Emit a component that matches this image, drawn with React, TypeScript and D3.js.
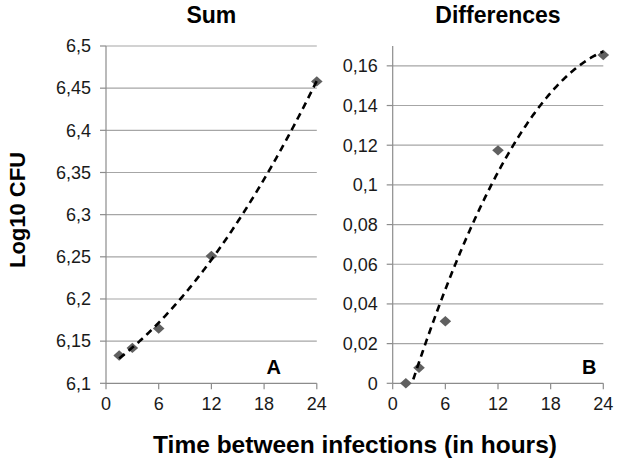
import React from "react";
import * as d3 from "d3";

const hours = [1.5, 3, 6, 12, 24];
const sumValues = [6.133, 6.142, 6.165, 6.251, 6.458];
const diffValues = [0, 0.0078, 0.0313, 0.1174, 0.1655];
const xTicks = [0, 6, 12, 18, 24];
const sumTicks = [6.1, 6.15, 6.2, 6.25, 6.3, 6.35, 6.4, 6.45, 6.5];
const diffTicks = [0, 0.02, 0.04, 0.06, 0.08, 0.1, 0.12, 0.14, 0.16];

function polyfit2(xs: number[], ys: number[]): number[] {
  // least squares quadratic (trendline)
  const S = (p: number) => d3.sum(xs, (x) => Math.pow(x, p));
  const T = (p: number) => d3.sum(xs.map((x, i) => Math.pow(x, p) * ys[i]));
  const A = [
    [S(0), S(1), S(2), T(0)],
    [S(1), S(2), S(3), T(1)],
    [S(2), S(3), S(4), T(2)],
  ];
  for (let i = 0; i < 3; i++) {
    let max = i;
    for (let r = i + 1; r < 3; r++) if (Math.abs(A[r][i]) > Math.abs(A[max][i])) max = r;
    [A[i], A[max]] = [A[max], A[i]];
    for (let r = 0; r < 3; r++) {
      if (r === i) continue;
      const f = A[r][i] / A[i][i];
      for (let c = i; c < 4; c++) A[r][c] -= f * A[i][c];
    }
  }
  return [A[0][3] / A[0][0], A[1][3] / A[1][1], A[2][3] / A[2][2]];
}

const fmt = (v: number) => String(+v.toFixed(3)).replace(".", ",");

const FONT = "'Liberation Sans', Arial, sans-serif";
const GRID = "#a6a6a6";
const AXIS = "#8c8c8c";
const MARK = "#606060";

type PanelProps = {
  id: string;
  values: number[];
  yDomain: [number, number];
  yTicks: number[];
  x0: number;
  x1: number;
  title: string;
  letter: string;
  letterX: number;
};

const TOP = 46;
const BOTTOM = 383.3;

function Panel({ id, values, yDomain, yTicks, x0, x1, title, letter, letterX }: PanelProps) {
  const x = d3.scaleLinear().domain([0, 24]).range([x0, x1]);
  const y = d3.scaleLinear().domain(yDomain).range([BOTTOM, TOP]);
  const [a, b, c] = polyfit2(hours, values);
  const xs = d3.range(hours[0], hours[hours.length - 1] + 0.001, 0.1);
  const line = d3
    .line<number>()
    .x((t) => x(t))
    .y((t) => y(a + b * t + c * t * t));
  const diamond = (cx: number, cy: number) =>
    `M${cx},${cy - 5.2}L${cx + 5.8},${cy}L${cx},${cy + 5.2}L${cx - 5.8},${cy}Z`;
  return (
    <g>
      <defs>
        <clipPath id={`clip-${id}`}>
          <rect x={x0} y={TOP - 10} width={x1 - x0 + 10} height={BOTTOM - TOP + 10} />
        </clipPath>
      </defs>
      {yTicks.map((t) => (
        <g key={t}>
          {t !== yDomain[0] && (
            <line x1={x0} x2={x1} y1={y(t)} y2={y(t)} stroke={GRID} strokeWidth={1.2} />
          )}
          <line x1={x0 - 6} x2={x0} y1={y(t)} y2={y(t)} stroke={AXIS} strokeWidth={1.2} />
          <text
            x={x0 - 15}
            y={y(t)}
            dy="0.35em"
            textAnchor="end"
            fontFamily={FONT}
            fontSize={18}
            fill="#1a1a1a"
          >
            {fmt(t)}
          </text>
        </g>
      ))}
      <line x1={x0} x2={x0} y1={TOP} y2={BOTTOM} stroke={AXIS} strokeWidth={1.2} />
      <line x1={x0} x2={x1} y1={BOTTOM} y2={BOTTOM} stroke={AXIS} strokeWidth={1.2} />
      {xTicks.map((t) => (
        <g key={t}>
          <line x1={x(t)} x2={x(t)} y1={BOTTOM} y2={BOTTOM + 6} stroke={AXIS} strokeWidth={1.2} />
          <text
            x={x(t)}
            y={410}
            textAnchor="middle"
            fontFamily={FONT}
            fontSize={18}
            fill="#1a1a1a"
          >
            {t}
          </text>
        </g>
      ))}
      {hours.map((h, i) => (
        <path key={h} d={diamond(x(h), y(values[i]))} fill={MARK} />
      ))}
      <path
        d={line(xs) || ""}
        fill="none"
        stroke="#000"
        strokeWidth={2.6}
        strokeDasharray="7,5"
        clipPath={`url(#clip-${id})`}
      />
      <text
        x={(x0 + x1) / 2}
        y={23}
        textAnchor="middle"
        fontFamily={FONT}
        fontWeight="bold"
        fontSize={23}
        fill="#000"
      >
        {title}
      </text>
      <text
        x={x(letterX)}
        y={374}
        textAnchor="middle"
        fontFamily={FONT}
        fontWeight="bold"
        fontSize={20}
        fill="#000"
      >
        {letter}
      </text>
    </g>
  );
}

export default function App() {
  return (
    <svg
      width={620}
      height={467}
      style={{ position: "absolute", left: 0, top: 0, background: "#fff" }}
    >
      <rect width={620} height={467} fill="#fff" />
      <Panel
        id="sum"
        values={sumValues}
        yDomain={[6.1, 6.5]}
        yTicks={sumTicks}
        x0={106}
        x1={316.8}
        title="Sum"
        letter="A"
        letterX={19.1}
      />
      <Panel
        id="diff"
        values={diffValues}
        yDomain={[0, 0.17]}
        yTicks={diffTicks}
        x0={392.7}
        x1={603.3}
        title="Differences"
        letter="B"
        letterX={22.4}
      />
      <text
        transform="translate(25,210) rotate(-90)"
        textAnchor="middle"
        fontFamily={FONT}
        fontWeight="bold"
        fontSize={22}
        fill="#000"
      >
        Log10 CFU
      </text>
      <text
        x={355}
        y={453}
        textAnchor="middle"
        fontFamily={FONT}
        fontWeight="bold"
        fontSize={24.5}
        fill="#000"
      >
        Time between infections (in hours)
      </text>
    </svg>
  );
}
